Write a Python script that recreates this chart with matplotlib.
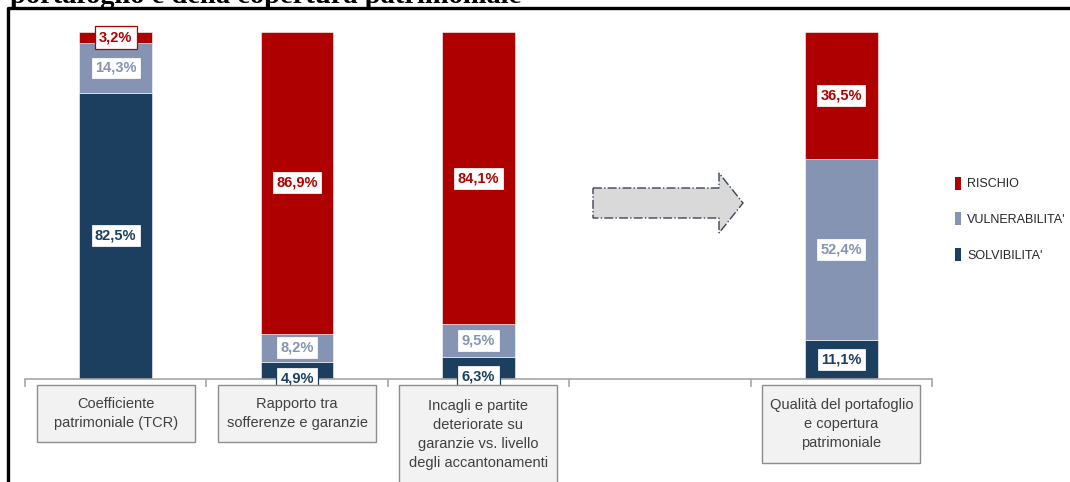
import matplotlib
matplotlib.use("Agg")
import matplotlib.pyplot as plt
from matplotlib import font_manager
from matplotlib.patches import Patch, Polygon, Rectangle
from matplotlib.lines import Line2D
from matplotlib.transforms import blended_transform_factory

# categories and stacked shares (solvibilita', vulnerabilita', rischio)
categories = [
    "Coefficiente\npatrimoniale (TCR)",
    "Rapporto tra\nsofferenze e garanzie",
    "Incagli e partite\ndeteriorate su\ngaranzie vs. livello\ndegli accantonamenti",
    "",
    "Qualità del portafoglio\ne copertura\npatrimoniale",
]
solvibilita = [82.5, 4.9, 6.3, None, 11.1]
vulnerabilita = [14.3, 8.2, 9.5, None, 52.4]
rischio = [3.2, 86.9, 84.1, None, 36.5]

series_names = ["SOLVIBILITA'", "VULNERABILITA'", "RISCHIO"]
colors = ["#1c3f5f", "#8494b2", "#af0000"]

available = {f.name for f in font_manager.fontManager.ttflist}
narrow = "Liberation Sans Narrow" if "Liberation Sans Narrow" in available else "Liberation Sans"

W, H = 1070, 482
fig = plt.figure(figsize=(W / 100, H / 100), dpi=100)

# plot area: baseline at 379 px, 100% at 32 px
ax = fig.add_axes([25 / W, (H - 379) / H, (932 - 25) / W, 347 / H])
ax.set_xlim(-0.5, len(categories) - 0.5)
ax.set_ylim(0, 100)

x = list(range(len(categories)))
bar_w = 0.40
bottoms = [0.0] * len(categories)
for values, color in zip([solvibilita, vulnerabilita, rischio], colors):
    for i, v in enumerate(values):
        if v is None:
            continue
        ax.bar(x[i], v, bottom=bottoms[i], width=bar_w, color=color,
               edgecolor="white", linewidth=0.4, zorder=2)
        # value label in a white box, small base segments pushed down a bit
        shift = -6 if (bottoms[i] == 0 and v < 8) else 0
        ax.annotate(f"{v:.1f}%".replace(".", ","),
                    xy=(x[i], bottoms[i] + v / 2), xytext=(0, shift),
                    textcoords="offset points",
                    ha="center", va="center", fontsize=10.5, fontweight="bold",
                    family=narrow, color=color, zorder=4,
                    bbox=dict(boxstyle="square,pad=0.3", fc="white",
                              ec=color, lw=0.9))
        bottoms[i] += v

# axis line with tick marks between categories
for side in ["top", "right", "left"]:
    ax.spines[side].set_visible(False)
ax.spines["bottom"].set_color("#a6a6a6")
ax.spines["bottom"].set_linewidth(1.2)
ax.set_yticks([])
ax.set_xticks([i - 0.5 for i in range(len(categories) + 1)])
ax.set_xticklabels([])
ax.tick_params(axis="x", length=6, width=1.2, color="#a6a6a6", direction="out")

# category boxes under the axis
trans = blended_transform_factory(ax.transData, fig.transFigure)
box_w = 158 / 181.4
for i, label in enumerate(categories):
    if not label:
        continue
    n = label.count("\n") + 1
    top = 385
    height = 21 * n + 15
    fig.patches.append(Rectangle((x[i] - box_w / 2, (H - top - height) / H),
                                 box_w, height / H, transform=trans,
                                 facecolor="#f2f2f2", edgecolor="#8c8c8c",
                                 lw=1.0, zorder=1))
    fig.text(x[i], (H - top - height / 2) / H, label, transform=trans,
             ha="center", va="center", fontsize=10.5, family=narrow,
             color="#404040", linespacing=1.45)

# dashed grey arrow between the bars and the summary column
arrow_pts = [(593, 188), (719, 188), (719, 173), (743, 203),
             (719, 233), (719, 218), (593, 218)]
fig.patches.append(Polygon([(px / W, 1 - py / H) for px, py in arrow_pts],
                           closed=True, transform=fig.transFigure,
                           facecolor="#d9d9d9", edgecolor="#3b4556",
                           lw=1.0, linestyle="-."))

# legend
handles = [Patch(facecolor=c) for c in colors[::-1]]
fig.legend(handles, series_names[::-1], loc="upper left",
           bbox_to_anchor=(952 / W, 1 - 174 / H), frameon=False,
           handlelength=0.55, handleheight=1.25, handletextpad=0.45,
           labelspacing=1.75, borderaxespad=0, borderpad=0.2,
           prop={"family": narrow, "size": 9}, labelcolor="#262626")

# frame and cut title
fig.add_artist(Line2D([7.5 / W, 7.5 / W, 1.0], [0, 1 - 7.5 / H, 1 - 7.5 / H],
                      transform=fig.transFigure, color="black", lw=2.4))
fig.text(10 / W, 1 - 3 / H, "portafoglio e della copertura patrimoniale",
         ha="left", va="baseline", fontsize=20.5, fontweight="bold",
         family="Liberation Serif", color="black")

fig.savefig("out.png", dpi=100, facecolor="white")
